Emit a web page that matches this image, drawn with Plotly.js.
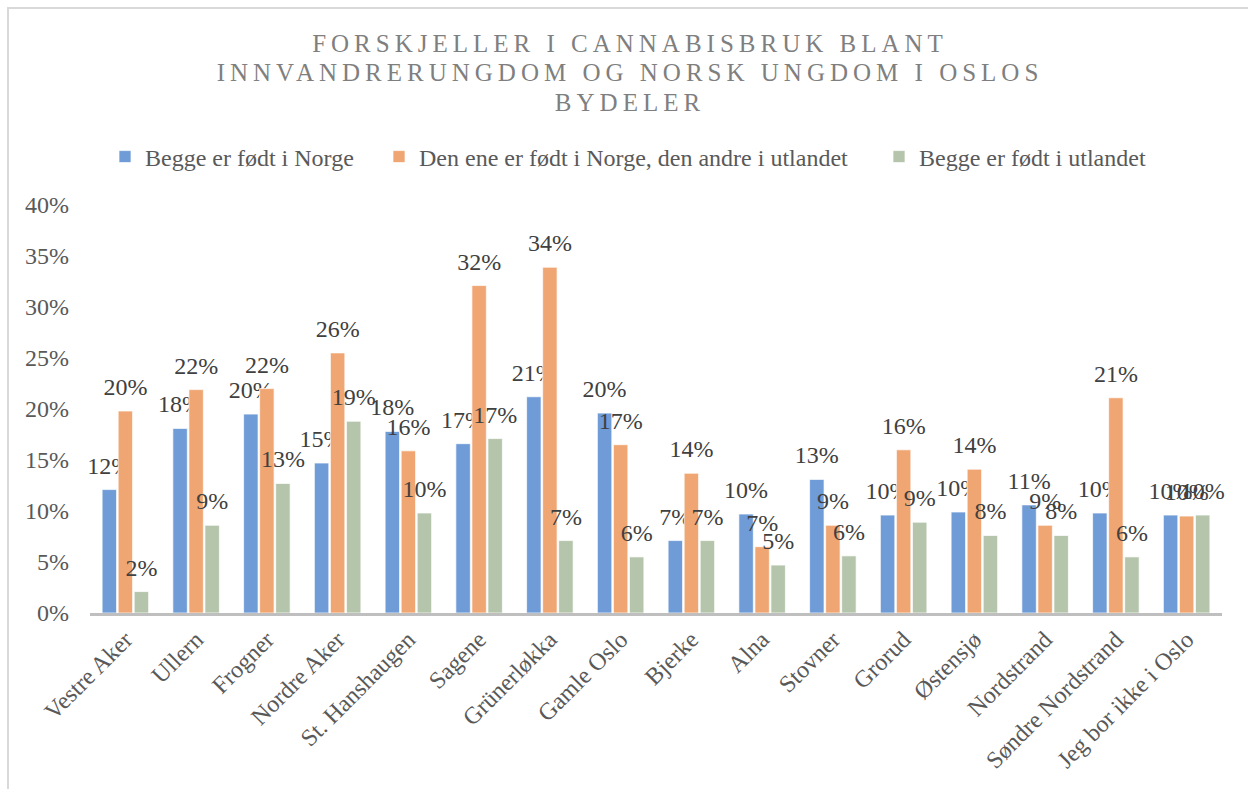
<!DOCTYPE html>
<html>
<head>
<meta charset="utf-8">
<script src="https://cdn.plot.ly/plotly-3.0.1.min.js"></script>
<style>
  html, body { margin: 0; padding: 0; background: #ffffff; }
  #frame { position: absolute; left: 7px; top: 7px; width: 1241px; height: 782px;
           border-top: 2px solid #d9d9d9; border-left: 2px solid #d9d9d9; box-sizing: border-box; }
  #chart { position: absolute; left: 0; top: 0; width: 1248px; height: 789px; }
</style>
</head>
<body>
<div id="frame"></div>
<div id="chart"></div>
<script>
const categories = ["Vestre Aker", "Ullern", "Frogner", "Nordre Aker", "St. Hanshaugen", "Sagene",
  "Grünerløkka", "Gamle Oslo", "Bjerke", "Alna", "Stovner", "Grorud", "Østensjø", "Nordstrand",
  "Søndre Nordstrand", "Jeg bor ikke i Oslo"];
const seriesNames = ["Begge er født i Norge", "Den ene er født i Norge, den andre i utlandet", "Begge er født i utlandet"];
const beggeNorge = [0.121, 0.181, 0.195, 0.147, 0.178, 0.166, 0.212, 0.196, 0.071, 0.097, 0.131, 0.096, 0.099, 0.106, 0.098, 0.096];
const enNorge    = [0.198, 0.219, 0.220, 0.255, 0.159, 0.321, 0.339, 0.165, 0.137, 0.065, 0.086, 0.160, 0.141, 0.086, 0.211, 0.095];
const beggeUtland= [0.021, 0.086, 0.127, 0.188, 0.098, 0.171, 0.071, 0.055, 0.071, 0.047, 0.056, 0.089, 0.076, 0.076, 0.055, 0.096];
const yTickVals = [0, 0.05, 0.10, 0.15, 0.20, 0.25, 0.30, 0.35, 0.40];
const yTickText = ["0%", "5%", "10%", "15%", "20%", "25%", "30%", "35%", "40%"];

const colors = ["#6f9bd7", "#f0a672", "#b4c5ab"];
const serif = '"Liberation Serif", "Times New Roman", serif';
const legendIds = ["legend", "legend2", "legend3"];
const legendLeft = [105, 379, 879];

const traces = [beggeNorge, enNorge, beggeUtland].map((vals, i) => ({
  type: "bar",
  name: seriesNames[i],
  legend: legendIds[i],
  x: categories,
  y: vals,
  marker: { color: colors[i], line: { color: "rgba(255,255,255,0.7)", width: 1 } },
  texttemplate: "%{y:.0%}",
  textposition: "outside",
  constraintext: "none",
  cliponaxis: false,
  textfont: { family: serif, size: 24, color: "#404040" },
  hoverinfo: "skip"
}));

function legendDef(i) {
  return {
    orientation: "h",
    xref: "container", x: legendLeft[i] / 1248, xanchor: "left",
    yref: "container", y: 1 - 157 / 789, yanchor: "middle",
    font: { family: serif, size: 24, color: "#595959" },
    itemwidth: 30,
    bgcolor: "rgba(0,0,0,0)"
  };
}

const layout = {
  width: 1248, height: 789,
  paper_bgcolor: "rgba(0,0,0,0)",
  plot_bgcolor: "rgba(0,0,0,0)",
  margin: { l: 90, r: 26, t: 205, b: 176 },
  barmode: "group",
  bargap: 0.32,
  bargroupgap: 0.1,
  title: {
    text: "FORSKJELLER I CANNABISBRUK BLANT<br>INNVANDRERUNGDOM OG NORSK UNGDOM I OSLOS<br>BYDELER",
    font: { family: serif, size: 25, color: "#7f7f7f" },
    xref: "container", x: 0.5 + 6 / 1248, xanchor: "center",
    yref: "container", y: 1 - 52 / 789, yanchor: "top"
  },
  showlegend: true,
  legend: legendDef(0),
  legend2: legendDef(1),
  legend3: legendDef(2),
  xaxis: {
    type: "category",
    tickangle: -45,
    tickfont: { family: serif, size: 24, color: "#595959" },
    showline: true, linecolor: "#bfbfbf", linewidth: 3,
    ticks: "", showgrid: false, zeroline: false
  },
  yaxis: {
    range: [0, 0.4],
    tickvals: yTickVals, ticktext: yTickText,
    tickfont: { family: serif, size: 24, color: "#595959" },
    showgrid: false, zeroline: false, showline: false, ticks: "",
    ticklabelstandoff: 20
  }
};

Plotly.newPlot("chart", traces, layout, { displayModeBar: false, staticPlot: true }).then(() => {
  document.querySelectorAll(".gtitle").forEach(el => {
    el.style.letterSpacing = "5px";
    el.querySelectorAll("tspan.line").forEach((t, k) => { if (k > 0) t.setAttribute("dy", (k * 1.17).toFixed(2) + "em"); });
  });
  document.querySelectorAll(".bartext").forEach(el => {
    const tr = el.getAttribute("transform") || "";
    el.setAttribute("transform", "translate(0,-8) " + tr);
  });
});
</script>
</body>
</html>
